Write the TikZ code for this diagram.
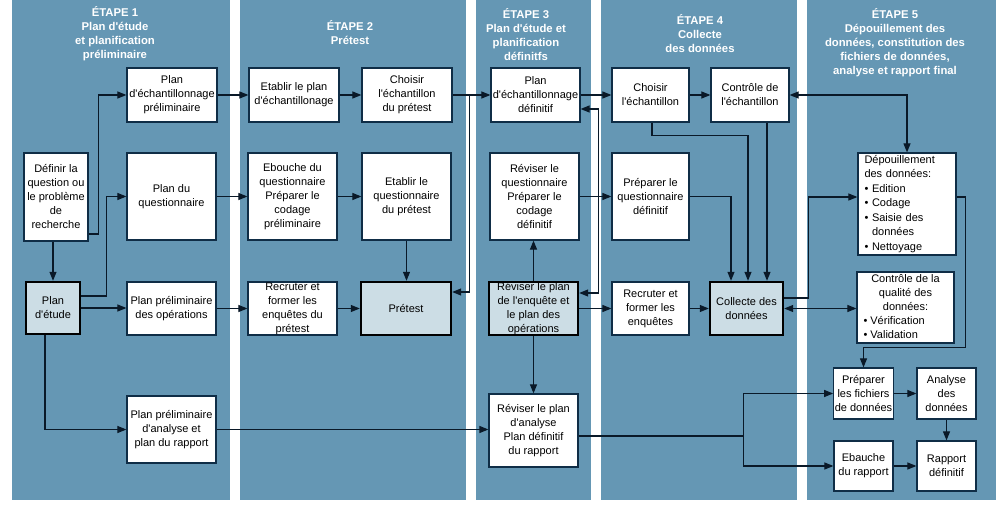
\documentclass[tikz,border=0pt]{standalone}
\usepackage{fontspec}
\setmainfont{Liberation Sans}[Ligatures=TeXOff]
\usepackage{xcolor}
\usetikzlibrary{arrows.meta}
\definecolor{panelblue}{RGB}{101,151,180}
\definecolor{keyfill}{RGB}{204,221,229}
\definecolor{boxline}{RGB}{15,45,70}
\definecolor{linedark}{RGB}{10,25,40}

\begin{document}
\begin{tikzpicture}[x=1pt,y=-1pt,>={Triangle[length=9pt,width=7pt]}]
            \tikzstyle{box}=[draw=boxline,line width=1.2pt,fill=white,inner xsep=1pt,inner ysep=0pt,align=center,font=\fontsize{11}{14}\selectfont]
            \tikzstyle{keybox}=[box,draw=black,line width=2.4pt,fill=keyfill]
            \tikzstyle{title}=[text=white,align=center,font=\bfseries\fontsize{11.3}{14}\selectfont]
            \tikzstyle{conn}=[draw=linedark,line width=1.1pt]
            \useasboundingbox (0,0) rectangle (1000,526);
            \fill [panelblue] (12,0) rectangle (230,500);
            \fill [panelblue] (240,0) rectangle (466,500);
            \fill [panelblue] (476,0) rectangle (591,500);
            \fill [panelblue] (601,0) rectangle (797,500);
            \fill [panelblue] (807,0) rectangle (996,500);
            \node [title] (t1) at (115,34) {ÉTAPE 1\\Plan d'étude\\et planification\\préliminaire};
            \node [title] (t2) at (350,33) {ÉTAPE 2\\Prétest};
            \node [title] (t3) at (526,35) {ÉTAPE 3\\Plan d'étude et\\planification\\définitfs};
            \node [title] (t4) at (700,34) {ÉTAPE 4\\Collecte\\des données};
            \node [title] (t5) at (895,43) {ÉTAPE 5\\Dépouillement des\\données, constitution des\\fichiers de données,\\analyse et rapport final};
            \node [box,minimum width=90,minimum height=54] (samp1) at (172,95) {Plan\\d'échantillonnage\\préliminaire};
            \node [box,minimum width=64,minimum height=88] (define) at (56,197) {Définir la\\question ou\\le problème\\de\\recherche};
            \node [box,minimum width=89,minimum height=87] (quest1) at (171.5,196.5) {Plan du\\questionnaire};
            \node [keybox,minimum width=54,minimum height=52] (etude) at (53,308) {Plan\\d'étude};
            \node [box,minimum width=89,minimum height=53] (ops1) at (171.5,308.5) {Plan préliminaire\\des opérations};
            \node [box,minimum width=89,minimum height=67] (anal1) at (171.5,429.5) {Plan préliminaire\\d'analyse et\\plan du rapport};
            \node [box,minimum width=90,minimum height=54] (samp2) at (294,95) {Etablir le plan\\d'échantillonage};
            \node [box,minimum width=90,minimum height=54] (choose2) at (407,95) {Choisir\\l'échantillon\\du prétest};
            \node [box,minimum width=89,minimum height=87] (quest2) at (292.5,196.5) {Ebouche du\\questionnaire\\Préparer le\\codage\\préliminaire};
            \node [box,minimum width=89,minimum height=87] (qpre) at (406.5,196.5) {Etablir le\\questionnaire\\du prétest};
            \node [box,minimum width=89,minimum height=53] (recruit2) at (292.5,308.5) {Recruter et\\former les\\enquêtes du\\prétest};
            \node [keybox,minimum width=90,minimum height=53] (pretest) at (406,308.5) {Prétest};
            \node [box,minimum width=89,minimum height=54] (samp3) at (535.5,95) {Plan\\d'échantillonnage\\définitif};
            \node [box,minimum width=89,minimum height=87] (quest3) at (534.5,196.5) {Réviser le\\questionnaire\\Préparer le\\codage\\définitif};
            \node [keybox,minimum width=89,minimum height=53] (plan3) at (533.5,308.5) {Réviser le plan\\de l'enquête et\\le plan des\\opérations};
            \node [box,minimum width=89,minimum height=73] (anal3) at (533.5,430.5) {Réviser le plan\\d'analyse\\Plan définitif\\du rapport};
            \node [box,minimum width=77,minimum height=54] (choose4) at (650.5,95) {Choisir\\l'échantillon};
            \node [box,minimum width=78,minimum height=54] (ctrl4) at (750,95) {Contrôle de\\l'échantillon};
            \node [box,minimum width=77,minimum height=87] (quest4) at (650.5,196.5) {Préparer le\\questionnaire\\définitif};
            \node [box,minimum width=77,minimum height=53] (recruit4) at (650.5,308.5) {Recruter et\\former les\\enquêtes};
            \node [keybox,minimum width=73,minimum height=53] (collect) at (746.5,308.5) {Collecte des\\données};
            \node [box,minimum width=98,minimum height=102,text width=85pt,inner xsep=6.5pt,align=left,font=\fontsize{11}{14.5}\selectfont] (depouil) at (907,204) {Dépouillement\\des données:\\\textbullet\ Edition\\\textbullet\ Codage\\\textbullet\ Saisie des\\\phantom{\textbullet\ }données\\\textbullet\ Nettoyage};
            \node [box,minimum width=97,minimum height=71] (qual) at (905.5,307.5) {\begin{tabular}{@{}p{84pt}@{}}\multicolumn{1}{@{}c@{}}{Contrôle de la}\\\multicolumn{1}{@{}c@{}}{qualité des}\\\multicolumn{1}{@{}c@{}}{données:}\\\textbullet\ Vérification\\\textbullet\ Validation\end{tabular}};
            \node [box,minimum width=59,minimum height=51] (prepfiles) at (863.5,393.5) {Préparer\\les fichiers\\de données};
            \node [box,minimum width=59,minimum height=51] (analyse) at (946.5,393.5) {Analyse\\des\\données};
            \node [box,minimum width=59,minimum height=50] (draft) at (863.5,466) {Ebauche\\du rapport};
            \node [box,minimum width=59,minimum height=50] (final) at (946.5,466) {Rapport\\définitif};
            \draw [conn,->] ([yshift=-37pt]define.east) -| ([xshift=-28pt]samp1.west) -- (samp1.west);
            \draw [conn,->] (define.south -| etude.north) -- (etude.north);
            \draw [conn,->] ([yshift=12pt]etude.east) -| ([xshift=-20pt]quest1.west) -- (quest1.west);
            \draw [conn,->] (etude.east) -- (etude.east -| ops1.west);
            \draw [conn,->] ([xshift=-8pt]etude.south) |- (anal1.west);
            \draw [conn,->] (samp1.east) -- (samp2.west);
            \draw [conn,->] (samp2.east) -- (choose2.west);
            \draw [conn,->] (quest1.east) -- (quest2.west);
            \draw [conn,->] (quest2.east) -- (qpre.west);
            \draw [conn,->] (ops1.east) -- (recruit2.west);
            \draw [conn,->] (recruit2.east) -- (pretest.west);
            \draw [conn,->] (qpre.south) -- (qpre.south |- pretest.north);
            \draw [conn,->] (choose2.east) -- (samp3.west);
            \draw [conn,->] ([xshift=17pt]choose2.east) |- ([yshift=16.5pt]pretest.east);
            \draw [conn,<->] ([yshift=-14pt]samp3.east) -| ([xshift=19pt,yshift=15.5pt]plan3.east) -- ([yshift=15.5pt]plan3.east);
            \draw [conn,->] (plan3.north) -- (plan3.north |- quest3.south);
            \draw [conn,->] (plan3.south) -- (plan3.south |- anal3.north);
            \draw [conn,->] (anal1.east) -- (anal1.east -| anal3.west);
            \draw [conn,->] (samp3.east) -- (choose4.west);
            \draw [conn,->] (quest3.east) -- (quest4.west);
            \draw [conn,->] (plan3.east) -- (recruit4.west);
            \draw [conn,->] (recruit4.east) -- (collect.west);
            \draw [conn,->] (choose4.east) -- (ctrl4.west);
            \draw [conn,->] ([xshift=1.5pt]choose4.south) -- ++(0,13) -| ([xshift=1.5pt]collect.north);
            \draw [conn,->] ([xshift=17pt]ctrl4.south) -- ([xshift=17pt]ctrl4.south |- collect.north);
            \draw [conn,->] (quest4.east) -| ([xshift=-15.5pt]collect.north);
            \draw [conn,<->] (ctrl4.east) -| (depouil.north);
            \draw [conn,->] ([yshift=10.5pt]collect.east) -| ([xshift=-49pt,yshift=7pt]depouil.west) -- ([yshift=7pt]depouil.west);
            \draw [conn,<->] (collect.east) -- (collect.east -| qual.west);
            \draw [conn,->] ([yshift=7pt]depouil.east) -- ++(9,0) |- ([yshift=20pt]prepfiles.north) -- (prepfiles.north);
            \draw [conn,->] ([yshift=-5.5pt]anal3.east) -- ++(165,0) coordinate (fork) |- (prepfiles.west);
            \draw [conn,->] (fork) |- (draft.west);
            \draw [conn,->] (prepfiles.east) -- (analyse.west);
            \draw [conn,->] (analyse.south) -- (final.north);
            \draw [conn,->] (draft.east) -- (final.west);
            \end{tikzpicture}
\end{document}
